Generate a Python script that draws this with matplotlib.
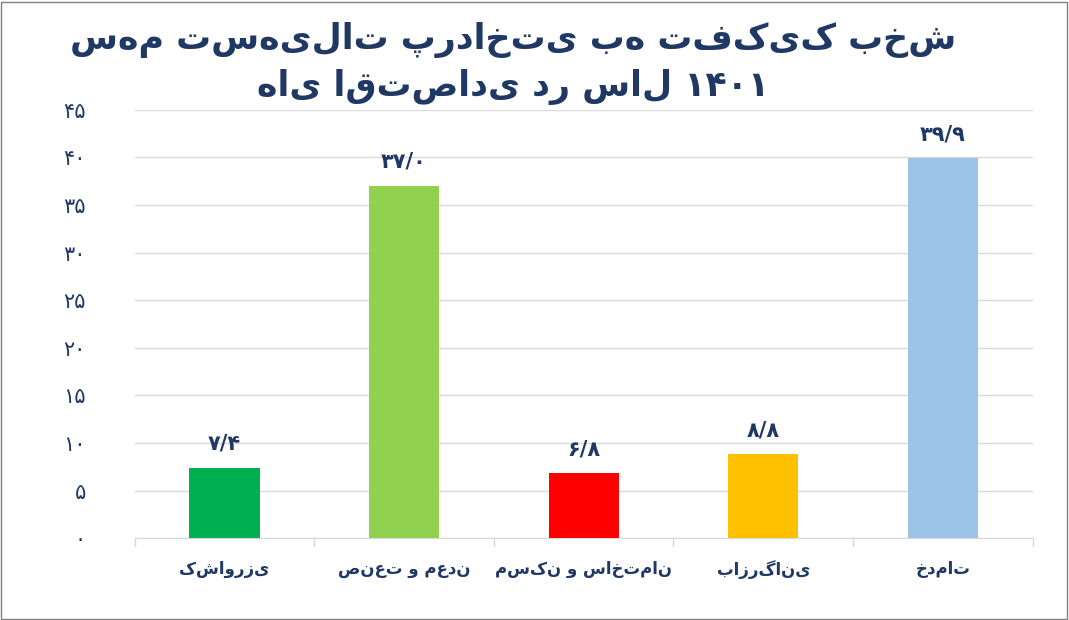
import matplotlib.pyplot as plt
import matplotlib.patches as mpatches

categories = ["کشاورزی", "صنعت و معدن", "مسکن و ساختمان", "بازرگانی", "خدمات"]
values = [7.4, 37.0, 6.8, 8.8, 39.9]
value_labels = ["۷/۴", "۳۷/۰", "۶/۸", "۸/۸", "۳۹/۹"]
colors = ["#00B050", "#92D050", "#FF0000", "#FFC000", "#9DC3E6"]
yticks = [0, 5, 10, 15, 20, 25, 30, 35, 40, 45]
ytick_labels = ["۰", "۵", "۱۰", "۱۵", "۲۰", "۲۵", "۳۰", "۳۵", "۴۰", "۴۵"]
title_lines = ["سهم تسهیلات پرداختی به تفکیک بخش", "های اقتصادی در سال ۱۴۰۱"]

navy = "#1F3864"
plt.rcParams['font.family'] = ['DejaVu Sans']

fig = plt.figure(figsize=(10.69, 6.2), dpi=100)
ax = fig.add_axes([0.126, 0.132, 0.84, 0.691])
x = range(len(categories))
ax.bar(x, values, width=0.39, color=colors, zorder=3)
for i, (v, lab) in enumerate(zip(values, value_labels)):
    ax.text(i, v + 1.5, lab, ha='center', va='bottom', fontsize=15,
            fontweight='bold', color=navy)

ax.set_ylim(0, 45)
ax.set_xlim(-0.5, len(categories) - 0.5)
ax.set_yticks(yticks)
ax.set_yticklabels(ytick_labels, fontsize=15, color=navy)
ax.set_xticks(list(x))
ax.set_xticklabels(categories, fontsize=12, fontweight='bold', color=navy)
ax.tick_params(axis='y', length=0, pad=35)
ax.tick_params(axis='x', length=0, pad=16)
ax.grid(axis='y', color='#D9D9D9', linewidth=1, zorder=0)
for s in ['top', 'right', 'left']:
    ax.spines[s].set_visible(False)
ax.spines['bottom'].set_color('#D9D9D9')
for b in [i + 0.5 for i in range(-1, len(categories))]:
    ax.plot([b, b], [0, -0.8], color='#D9D9D9', lw=1, clip_on=False)

fig.text(0.48, 0.935, title_lines[0], ha='center', va='center', fontsize=25,
         fontweight='bold', color=navy)
fig.text(0.48, 0.86, title_lines[1], ha='center', va='center', fontsize=25,
         fontweight='bold', color=navy)

fig.patches.append(mpatches.Rectangle((0.001, 0.002), 0.997, 0.995, transform=fig.transFigure,
                                      fill=False, edgecolor='#7F7F7F', lw=1))
fig.savefig("out.png", dpi=100)
